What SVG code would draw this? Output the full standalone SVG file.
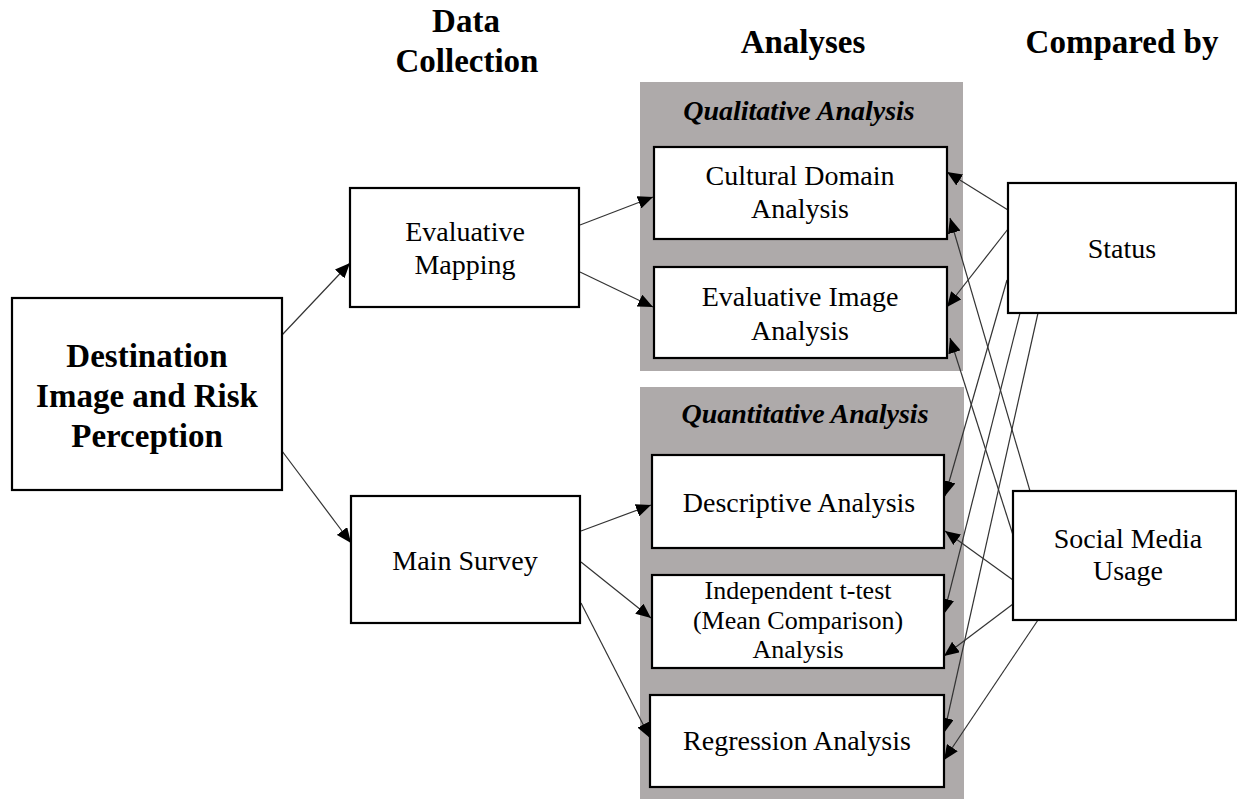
<svg xmlns="http://www.w3.org/2000/svg" width="1237" height="799" viewBox="0 0 1237 799">
  <style>
    .panel { fill: #aeaaaa; stroke: none; }
    .box { fill: #ffffff; stroke: #000000; stroke-width: 2.2; }
    .txt { font-family: "Liberation Serif", "Times New Roman", serif; font-size: 28px; fill: #000000; text-anchor: middle; }
    .small { font-size: 26px; }
    .head { font-family: "Liberation Serif", "Times New Roman", serif; font-size: 33px; font-weight: bold; fill: #000000; text-anchor: middle; }
    .big { font-family: "Liberation Serif", "Times New Roman", serif; font-size: 33px; font-weight: bold; fill: #000000; text-anchor: middle; }
    .sect { font-family: "Liberation Serif", "Times New Roman", serif; font-size: 28px; font-weight: bold; font-style: italic; fill: #000000; text-anchor: middle; }
    .conn line { stroke: #333333; stroke-width: 1.2; fill: none; marker-end: url(#arrow); }
  </style>
  <defs>
    <marker id="arrow" markerUnits="userSpaceOnUse" markerWidth="16" markerHeight="13" refX="15" refY="6.5" orient="auto">
      <path d="M0,0 L15,6.5 L0,13 Z" fill="#000000"/>
    </marker>
  </defs>

  <rect width="1237" height="799" fill="#ffffff"/>

  <!-- column headings -->
  <g id="headings">
    <text class="head" x="466" y="32">Data</text>
    <text class="head" x="467" y="72">Collection</text>
    <text class="head" x="803" y="53">Analyses</text>
    <text class="head" x="1122" y="53">Compared by</text>
  </g>

  <!-- grey analysis panels -->
  <g id="qualitative-panel">
    <rect class="panel" x="640" y="82" width="323" height="289"/>
    <text class="sect" x="799" y="120">Qualitative Analysis</text>
  </g>
  <g id="quantitative-panel">
    <rect class="panel" x="640" y="387" width="324" height="412"/>
    <text class="sect" x="805" y="423">Quantitative Analysis</text>
  </g>

  <!-- connectors -->
  <g id="connectors" class="conn">
    <line x1="282" y1="335" x2="350" y2="263"/>
    <line x1="282" y1="451" x2="351" y2="543"/>
    <line x1="580" y1="225" x2="653" y2="197"/>
    <line x1="580" y1="272" x2="653" y2="307"/>
    <line x1="581" y1="531" x2="651" y2="505"/>
    <line x1="581" y1="562" x2="651" y2="618"/>
    <line x1="581" y1="603" x2="650" y2="738"/>
    <line x1="1008" y1="210" x2="947" y2="172"/>
    <line x1="1008" y1="229" x2="947" y2="307"/>
    <line x1="1007" y1="280" x2="945" y2="496"/>
    <line x1="1020" y1="313" x2="944" y2="614"/>
    <line x1="1038" y1="313" x2="944" y2="733"/>
    <line x1="1030" y1="491" x2="950" y2="218"/>
    <line x1="1013" y1="535" x2="950" y2="338"/>
    <line x1="1013" y1="580" x2="945" y2="531"/>
    <line x1="1013" y1="604" x2="944" y2="656"/>
    <line x1="1038" y1="620" x2="944" y2="760"/>
  </g>

  <g id="destination">
    <rect class="box" x="12" y="298" width="270" height="192"/>
    <text class="big" x="147" y="367">Destination</text>
    <text class="big" x="147" y="407">Image and Risk</text>
    <text class="big" x="147" y="447">Perception</text>
  </g>

  <g id="evaluative-mapping">
    <rect class="box" x="350" y="188" width="229" height="119"/>
    <text class="txt" x="465" y="241">Evaluative</text>
    <text class="txt" x="465" y="274">Mapping</text>
  </g>

  <g id="main-survey">
    <rect class="box" x="351" y="496" width="229" height="127"/>
    <text class="txt" x="465" y="570">Main Survey</text>
  </g>

  <g id="cultural-domain">
    <rect class="box" x="654" y="147" width="293" height="92"/>
    <text class="txt" x="800" y="185">Cultural Domain</text>
    <text class="txt" x="800" y="218">Analysis</text>
  </g>

  <g id="evaluative-image">
    <rect class="box" x="654" y="267" width="293" height="91"/>
    <text class="txt" x="800" y="306">Evaluative Image</text>
    <text class="txt" x="800" y="340">Analysis</text>
  </g>

  <g id="descriptive">
    <rect class="box" x="652" y="455" width="292" height="93"/>
    <text class="txt" x="799" y="512">Descriptive Analysis</text>
  </g>

  <g id="t-test">
    <rect class="box" x="652" y="575" width="292" height="93"/>
    <text class="txt small" x="798" y="599">Independent t-test</text>
    <text class="txt small" x="798" y="629">(Mean Comparison)</text>
    <text class="txt small" x="798" y="658">Analysis</text>
  </g>

  <g id="regression">
    <rect class="box" x="650" y="695" width="294" height="92"/>
    <text class="txt" x="797" y="750">Regression Analysis</text>
  </g>

  <g id="status">
    <rect class="box" x="1008" y="183" width="228" height="130"/>
    <text class="txt" x="1122" y="258">Status</text>
  </g>

  <g id="social-media">
    <rect class="box" x="1013" y="491" width="223" height="129"/>
    <text class="txt" x="1128" y="548">Social Media</text>
    <text class="txt" x="1128" y="580">Usage</text>
  </g>
</svg>
